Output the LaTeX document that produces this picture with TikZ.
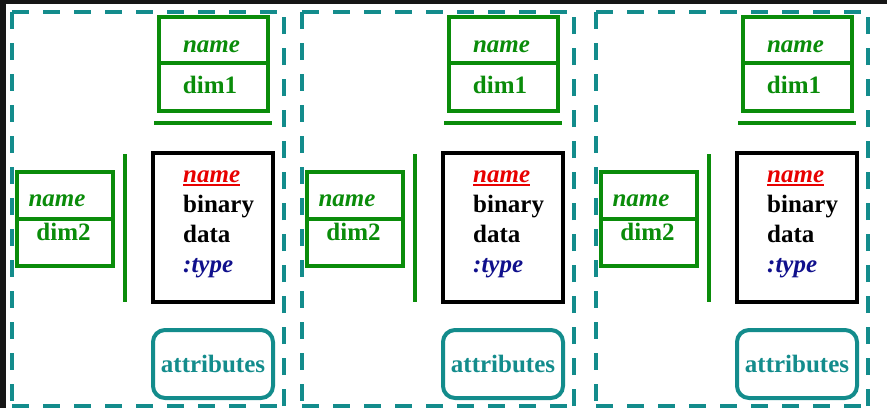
\documentclass[tikz,border=0pt]{standalone}
\usepackage{fontspec}
\setmainfont{Liberation Serif}
\definecolor{grn}{HTML}{0A8C0A}
\definecolor{tealc}{HTML}{138C8C}
\definecolor{navyc}{HTML}{10108C}
\definecolor{redc}{HTML}{E80000}
\definecolor{framec}{HTML}{161616}
\begin{document}
\begin{tikzpicture}[x=1pt,y=-1pt,
  txt/.style={font=\fontsize{25}{29}\selectfont\bfseries, inner sep=0pt, anchor=base},
  itxt/.style={txt, font=\fontsize{25}{29}\selectfont\bfseries\itshape},
  cell/.style={draw=grn, line width=4pt, inner sep=0pt},
  blob/.style={draw=black, line width=4pt, inner sep=0pt, minimum width=120pt, minimum height=149pt},
  attrbox/.style={draw=tealc, line width=4pt, rounded corners=12pt, inner sep=0pt,
    minimum width=120pt, minimum height=68pt, text=tealc,
    font=\fontsize{25}{29}\selectfont\bfseries},
  panel/.style={draw=tealc, line width=4.5pt, dash pattern=on 17pt off 14pt},
  bar/.style={draw=grn, line width=4pt}
]
\useasboundingbox (0,0) rectangle (887,408);
\fill[white] (0,0) rectangle (887,408);
% dark frame along the top and left edges
\fill[framec] (0,0) rectangle (887,4);
\fill[framec] (0,0) rectangle (6,408);

\foreach \dx/\k in {0/1,290/2,584/3}{
  \begin{scope}[xshift=\dx pt]
    % dashed panel outline
    \draw[panel] (12,12) -- (284,12);
    \draw[panel] (12,12) -- (12,406);
    \draw[panel] (284,406) -- (284,12);
    \draw[panel] (12,406) -- (284,406);

    % dimension 1 table
    \node[cell, minimum width=109pt, minimum height=46pt] (dimAname\k) at (213.5,40) {};
    \node[cell, minimum width=109pt, minimum height=48pt] (dimAval\k) at (213.5,87) {};
    \node[itxt, text=grn] (tA\k) at (211.5,52.5) {name};
    \node[txt, text=grn] (vA\k) at (210,93) {dim1};
    \draw[bar] (154,123) -- (272,123);

    % dimension 2 table
    \node[cell, minimum width=96pt, minimum height=47pt] (dimBname\k) at (65,195.5) {};
    \node[cell, minimum width=96pt, minimum height=47pt] (dimBval\k) at (65,242.5) {};
    \node[itxt, text=grn] (tB\k) at (57,206.5) {name};
    \node[txt, text=grn] (vB\k) at (63.5,240) {dim2};
    \draw[bar, line width=3.2pt] (125,154) -- (125,302);

    % data block
    \node[blob] (blk\k) at (213,227.5) {};
    \node[itxt, anchor=base west, text=redc] (bn\k) at (183,182) {name};
    \draw[redc, line width=2.4pt] ([yshift=-3pt]bn\k.base west) -- ([yshift=-3pt]bn\k.base east);
    \node[txt, anchor=base west] (bl1\k) at (183,212) {binary};
    \node[txt, anchor=base west] (bl2\k) at (183,242) {data};
    \node[itxt, anchor=base west, text=navyc] (bt\k) at (183,272) {:type};

    % attributes
    \node[attrbox] (attr\k) at (213,364) {attributes};
  \end{scope}
}
\end{tikzpicture}
\end{document}
